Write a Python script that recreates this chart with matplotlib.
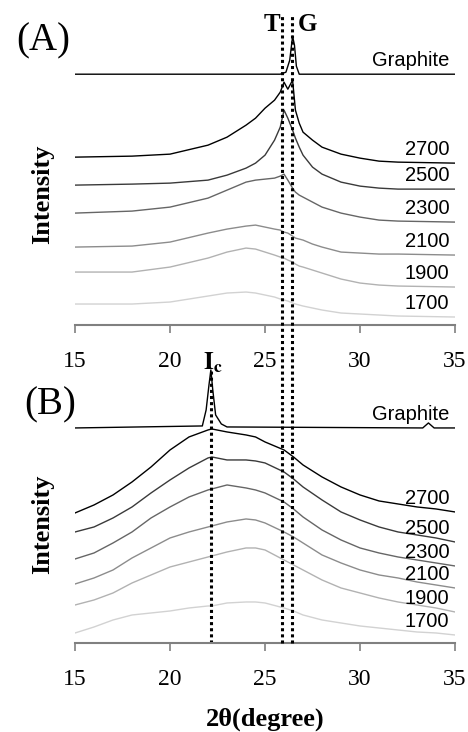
import numpy as np
import matplotlib
matplotlib.use("Agg")
import matplotlib.pyplot as plt
from matplotlib.lines import Line2D
import matplotlib.transforms as mtransforms

plt.rcParams['mathtext.fontset'] = 'stix'

# ---- data (arbitrary intensity units, already stacked) ----
temps = ["2700", "2500", "2300", "2100", "1900", "1700"]
colors = ["#000000", "#3a3a3a", "#666666", "#8c8c8c", "#b2b2b2", "#d2d2d2"]

# panel A
xa = [15, 18, 20, 22, 23, 24, 24.5, 25, 25.5, 25.8, 26.0, 26.2, 26.45, 26.6,
      26.8, 27, 27.5, 28, 29, 30, 31, 32, 35]
a_2700 = [168, 169, 171, 180, 188, 200, 207, 217, 225, 233, 243, 236, 245, 215,
          202, 193, 185, 178, 171, 167, 164, 163, 162]
a_2500 = [140, 141, 142, 145, 150, 157, 162, 170, 185, 198, 215, 207, 195, 187,
          178, 170, 158, 151, 143, 139, 137, 136, 136]
a_2300 = [112, 114, 118, 127, 135, 143, 145, 146, 147, 149, 151, 145, 137, 133,
          130, 128, 123, 118, 112, 108, 105, 104, 103]
a_2100 = [78, 79, 83, 92, 96, 99, 100, 98, 96, 95, 93, 92, 89, 87,
          86, 85, 81, 78, 73, 72, 71, 71, 70]
a_1900 = [53, 53, 58, 67, 73, 77, 76, 73, 70, 68, 67, 65, 63, 61,
          59, 58, 55, 52, 46, 42, 40, 39, 38]
a_1700 = [21, 21, 23, 29, 32, 33, 32, 30, 28, 26, 25, 24, 22, 21,
          20, 19, 17, 15, 12, 11, 10, 9, 8]
xa_gr = [15, 25.8, 26.1, 26.3, 26.45, 26.55, 26.65, 26.8, 35]
a_graphite = [251, 251, 253, 265, 289, 280, 259, 251, 251]

# panel B
xb = [15, 16, 17, 18, 19, 20, 21, 22, 22.2, 23, 24, 24.5, 25, 26, 26.5, 27,
      28, 29, 30, 31, 32, 33, 34, 35]
b_2700 = [130, 138, 148, 161, 176, 193, 206, 213, 214, 211, 208, 206, 201, 193,
          186, 178, 166, 156, 148, 142, 139, 136, 134, 131]
b_2500 = [111, 116, 125, 136, 150, 163, 175, 185, 186, 183, 183, 182, 180, 171,
          164, 156, 143, 131, 123, 116, 111, 108, 105, 101]
b_2300 = [84, 90, 100, 111, 125, 136, 146, 153, 154, 158, 155, 153, 150, 141,
          134, 126, 113, 103, 95, 90, 86, 83, 80, 77]
b_2100 = [59, 65, 73, 85, 95, 105, 111, 116, 117, 121, 124, 123, 120, 111,
          106, 100, 88, 80, 73, 68, 65, 61, 58, 55]
b_1900 = [38, 43, 50, 60, 68, 76, 81, 86, 87, 91, 95, 95, 93, 83,
          78, 73, 63, 55, 50, 45, 41, 38, 35, 31]
b_1700 = [10, 16, 23, 28, 30, 32, 35, 37, 37, 40, 41, 41, 40, 35,
          32, 28, 23, 20, 17, 15, 13, 11, 10, 8]
xb_gr = [15, 21.7, 21.9, 22.05, 22.15, 22.25, 22.4, 22.7, 23, 33.3, 33.6, 33.9, 35]
b_graphite = [215, 217, 233, 258, 273, 253, 228, 219, 216, 215, 220, 215, 215]

peak_T = 25.88
peak_G = 26.42
peak_Ic = 22.16

serif = "Liberation Serif"
sans = "Liberation Sans"

fig = plt.figure(figsize=(4.68, 7.32), dpi=100)
axA = fig.add_axes([0.1603, 0.556, 0.812, 0.430])
axB = fig.add_axes([0.1603, 0.1216, 0.812, 0.414])


def style_axis(ax, top, label_y):
    ax.set_xlim(15, 35)
    ax.set_ylim(0, top)
    for s in ["left", "right", "top"]:
        ax.spines[s].set_visible(False)
    ax.spines["bottom"].set_color("#808080")
    ax.spines["bottom"].set_linewidth(1.5)
    ax.set_yticks([])
    ax.set_xticks([15, 20, 25, 30, 35])
    ax.tick_params(axis="x", direction="out", length=6, width=1.2,
                   color="#808080", pad=13, labelsize=17)
    for lab in ax.get_xticklabels():
        lab.set_fontfamily(serif)
    ax.set_ylabel("Intensity", fontfamily=serif, fontweight="bold", fontsize=19)
    ax.yaxis.set_label_coords(-0.056, label_y)
    ax.patch.set_visible(False)


series_a = [a_2700, a_2500, a_2300, a_2100, a_1900, a_1700]
series_b = [b_2700, b_2500, b_2300, b_2100, b_1900, b_1700]

for ax, xs, series, xg, gr, top, ly in [
        (axA, xa, series_a, xa_gr, a_graphite, 315, 0.416),
        (axB, xb, series_b, xb_gr, b_graphite, 303, 0.393)]:
    style_axis(ax, top, ly)
    ax.plot(xg, gr, color="black", lw=1.0)
    ax.annotate("Graphite", (34.7, gr[-1]), xytext=(0, 3),
                textcoords="offset points", ha="right", va="bottom",
                fontfamily=sans, fontsize=14.5)
    for name, ys, c in zip(temps, series, colors):
        ax.plot(xs, ys, color=c, lw=1.0)
        ax.annotate(name, (34.7, ys[-1]), xytext=(0, 3),
                    textcoords="offset points", ha="right", va="bottom",
                    fontfamily=sans, fontsize=14.5)

# dotted reference lines
dot = dict(color="black", lw=2.2, linestyle=(0, (1, 1)))
trans = mtransforms.blended_transform_factory(axB.transData, fig.transFigure)
for xv in [peak_T, peak_G]:
    fig.add_artist(Line2D([xv, xv], [0.1216, 0.98], transform=trans, **dot))
axB.plot([peak_Ic, peak_Ic], [0, max(b_graphite)], **dot)

# annotations
fig.text(0.092, 0.944, "(A)", fontfamily=serif, fontsize=28, ha="center", va="center")
fig.text(0.107, 0.447, "(B)", fontfamily=serif, fontsize=28, ha="center", va="center")
fig.text(0.581, 0.967, "T", fontfamily=serif, fontsize=18, fontweight="bold",
         ha="center", va="center")
fig.text(0.656, 0.967, "G", fontfamily=serif, fontsize=18, fontweight="bold",
         ha="center", va="center")
fig.text(0.455, 0.505, r"$\mathbf{I_c}$", fontsize=18, ha="center", va="center")

fig.text(0.566, 0.017, "2θ(degree)", fontfamily=serif, fontsize=19,
         fontweight="bold", ha="center", va="center")

fig.savefig("out.png", dpi=100)
